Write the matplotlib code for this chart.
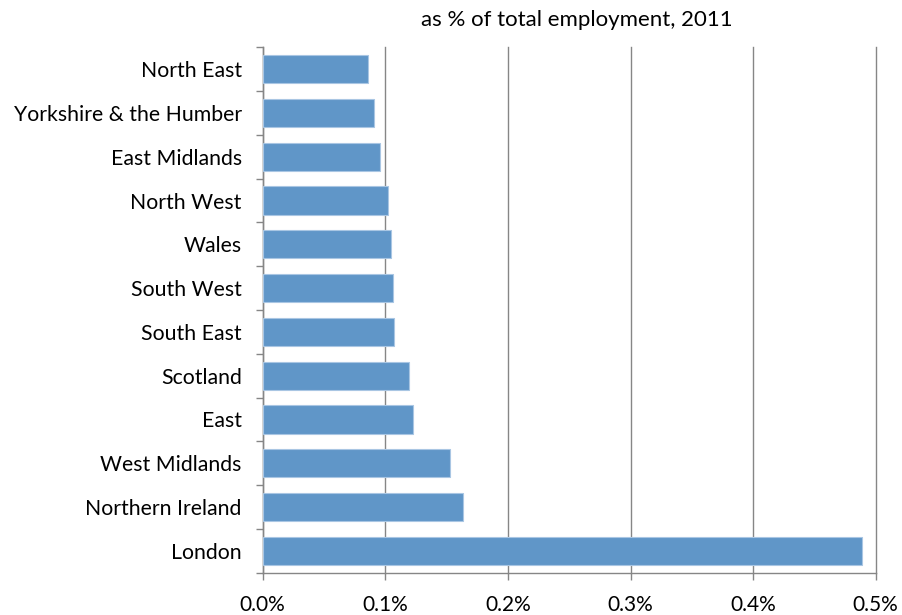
import numpy as np
import matplotlib.pyplot as plt
from matplotlib.ticker import FixedLocator, FuncFormatter

plt.rcParams['font.family'] = ['Lato', 'DejaVu Sans']

regions = ['North East', 'Yorkshire & the Humber', 'East Midlands', 'North West',
           'Wales', 'South West', 'South East', 'Scotland', 'East',
           'West Midlands', 'Northern Ireland', 'London']
share = [0.0863, 0.0905, 0.0957, 0.1019, 0.1047, 0.1060, 0.1074,
         0.1191, 0.1229, 0.1529, 0.1632, 0.4892]

grey = '#868686'

fig = plt.figure(figsize=(9.03, 6.15), dpi=100)
ax = fig.add_axes([0.2909, 0.0688, 0.6789, 0.8543])

y = np.arange(len(regions))
ax.barh(y, share, height=0.645, color='#6096C8', edgecolor='#A9C6E3', linewidth=0.8, zorder=3)

ax.set_xlim(0, 0.5)
ax.set_ylim(len(regions) - 0.5, -0.5)
ax.set_xticks(np.arange(0, 0.51, 0.1))
ax.xaxis.set_major_formatter(FuncFormatter(lambda v, p: '%.1f%%' % v))
ax.grid(axis='x', color=grey, linewidth=1.0, zorder=0)
for gl in ax.get_xgridlines():
    gl.set_clip_on(False)

ax.set_yticks(y)
ax.set_yticklabels(regions)
ax.yaxis.set_minor_locator(FixedLocator(np.arange(-0.5, len(regions), 1)))
ax.tick_params(axis='y', which='major', length=0, pad=15, labelsize=15.3)
ax.tick_params(axis='y', which='minor', length=5, width=1.0, color=grey)
ax.tick_params(axis='x', which='major', length=5, width=1.0, color=grey, pad=11, labelsize=15)

for side in ['top', 'right']:
    ax.spines[side].set_visible(False)
for side in ['left', 'bottom']:
    ax.spines[side].set_color(grey)
    ax.spines[side].set_linewidth(1.0)

fig.text(0.639, 0.968, 'as % of total employment, 2011', ha='center', va='center', fontsize=16)

fig.savefig('out.png', dpi=100)
